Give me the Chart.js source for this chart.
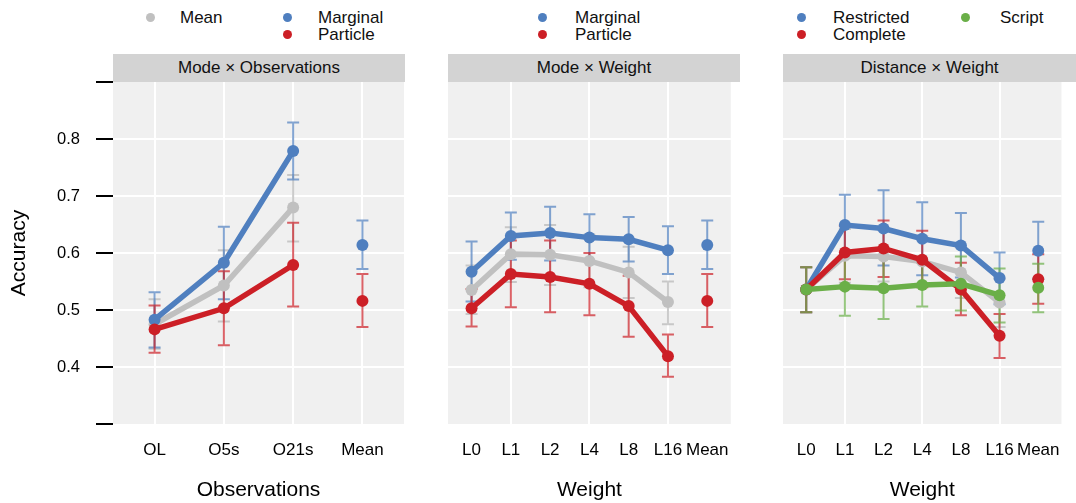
<!DOCTYPE html>
<html><head><meta charset="utf-8">
<script src="https://cdn.jsdelivr.net/npm/chart.js@4"></script>
<style>
body{margin:0;width:1076px;height:503px;position:relative;background:#fff;font-family:"Liberation Sans",Arial,Helvetica,sans-serif;overflow:hidden}
canvas{position:absolute;top:0}
.strip{position:absolute;top:54px;height:28px;background:#d3d3d3;font-size:17px;line-height:28px;text-align:center;color:#111}
.lg{position:absolute;font-size:17px;line-height:17px;color:#111;white-space:nowrap}
.dot{position:absolute;width:9px;height:9px;border-radius:50%}
</style></head><body>
<div class="strip" style="left:113px;width:292px">Mode × Observations</div>
<div class="strip" style="left:448px;width:292px">Mode × Weight</div>
<div class="strip" style="left:783px;width:293px">Distance × Weight</div>
<div id="legends"></div>
<div id="c1w" style="position:absolute;left:0;top:0;width:410px;height:503px"><canvas id="c1"></canvas></div>
<div id="c2w" style="position:absolute;left:420px;top:0;width:325px;height:503px"><canvas id="c2"></canvas></div>
<div id="c3w" style="position:absolute;left:760px;top:0;width:316px;height:503px"><canvas id="c3"></canvas></div>
<script>
// ---------- data ----------
const obsCats = ['OL','O5s','O21s','Mean'];
const weightCats = ['L0','L1','L2','L4','L8','L16','Mean'];
const yTickValues = [0.3,0.4,0.5,0.6,0.7,0.8,0.9];
const yTickLabels = ['','0.4','0.5','0.6','0.7','0.8',''];

// Panel 1: Mode x Observations
const p1Mean       = [0.475,0.543,0.680,null];
const p1MeanLo     = [0.432,0.480,0.620,null];
const p1MeanHi     = [0.519,0.605,0.737,null];
const p1Marginal   = [0.483,0.583,0.779,0.614];
const p1MarginalLo = [0.434,0.519,0.729,0.572];
const p1MarginalHi = [0.531,0.646,0.829,0.657];
const p1Particle   = [0.466,0.503,0.579,0.516];
const p1ParticleLo = [0.425,0.438,0.506,0.470];
const p1ParticleHi = [0.508,0.568,0.653,0.563];

// Panel 2: Mode x Weight
const p2Mean       = [0.535,0.598,0.597,0.586,0.566,0.514,null];
const p2MeanLo     = [0.493,0.549,0.544,0.540,0.521,0.475,null];
const p2MeanHi     = [0.578,0.645,0.649,0.632,0.611,0.550,null];
const p2Marginal   = [0.567,0.630,0.635,0.627,0.624,0.605,0.614];
const p2MarginalLo = [0.515,0.588,0.587,0.586,0.585,0.563,0.572];
const p2MarginalHi = [0.620,0.671,0.681,0.668,0.663,0.647,0.657];
const p2Particle   = [0.503,0.563,0.558,0.546,0.507,0.419,0.516];
const p2ParticleLo = [0.471,0.505,0.496,0.491,0.453,0.383,0.470];
const p2ParticleHi = [0.537,0.622,0.622,0.600,0.560,0.457,0.563];

// Panel 3: Distance x Weight
const p3Mean         = [0.536,0.595,0.594,0.585,0.566,0.513,null];
const p3MeanLo       = [0.496,0.548,0.550,0.540,0.521,0.470,null];
const p3MeanHi       = [0.575,0.642,0.640,0.630,0.610,0.555,null];
const p3Restricted   = [0.536,0.649,0.643,0.625,0.613,0.556,0.604];
const p3RestrictedLo = [0.496,0.597,0.578,0.561,0.557,0.510,0.555];
const p3RestrictedHi = [0.575,0.702,0.710,0.689,0.670,0.601,0.655];
const p3Complete     = [0.536,0.601,0.608,0.588,0.536,0.455,0.554];
const p3CompleteLo   = [0.496,0.554,0.558,0.540,0.491,0.416,0.511];
const p3CompleteHi   = [0.575,0.648,0.657,0.639,0.583,0.493,0.598];
const p3Script       = [0.536,0.541,0.538,0.544,0.546,0.526,0.539];
const p3ScriptLo     = [0.496,0.490,0.484,0.506,0.499,0.478,0.496];
const p3ScriptHi     = [0.575,0.592,0.592,0.583,0.594,0.573,0.581];

// ---------- style ----------
const FONT = '"Liberation Sans", Arial, Helvetica, sans-serif';
const C = {
  gray:  {line:'#c0c0c0', err:'rgba(185,185,185,0.75)'},
  blue:  {line:'#4f7fbf', err:'rgba(79,127,191,0.7)'},
  red:   {line:'#cc1f26', err:'rgba(204,31,38,0.7)'},
  green: {line:'#6aaf48', err:'rgba(106,175,72,0.7)'}
};

// ---------- legends (HTML text) ----------
const legendItems = [
  {x:150,y:17,c:C.gray.line,t:'Mean',tx:180},
  {x:287,y:17,c:C.blue.line,t:'Marginal',tx:318},
  {x:287,y:34,c:C.red.line,t:'Particle',tx:318},
  {x:542,y:17,c:C.blue.line,t:'Marginal',tx:575},
  {x:542,y:34,c:C.red.line,t:'Particle',tx:575},
  {x:801,y:17,c:C.blue.line,t:'Restricted',tx:833},
  {x:801,y:34,c:C.red.line,t:'Complete',tx:833},
  {x:965,y:17,c:C.green.line,t:'Script',tx:1000}
];
const lgDiv = document.getElementById('legends');
legendItems.forEach(it=>{
  const d=document.createElement('div');d.className='dot';
  d.style.left=(it.x-4.5)+'px';d.style.top=(it.y-4.5)+'px';d.style.background=it.c;lgDiv.appendChild(d);
  const s=document.createElement('div');s.className='lg';s.textContent=it.t;
  s.style.left=it.tx+'px';s.style.top=(it.y-8.5)+'px';lgDiv.appendChild(s);
});

// ---------- plugins ----------
const panelBg = {
  id:'panelBg',
  beforeDraw(chart){
    const {ctx, chartArea:a} = chart;
    ctx.save(); ctx.fillStyle='#f0f0f0';
    ctx.fillRect(a.left,a.top,a.right-a.left,a.bottom-a.top); ctx.restore();
  }
};
const errorBars = {
  id:'errorBars',
  beforeDatasetsDraw(chart){
    const {ctx, scales:{x,y}} = chart;
    const metas = chart.getSortedVisibleDatasetMetas().slice().reverse();
    metas.forEach(m=>{
      const ds = chart.data.datasets[m.index];
      ctx.save(); ctx.strokeStyle = ds.errColor; ctx.lineWidth = 2;
      ds.lo.forEach((lo,i)=>{
        const hi = ds.hi[i]; if(lo==null||hi==null) return;
        const px = x.getPixelForValue(i), y1 = y.getPixelForValue(lo), y2 = y.getPixelForValue(hi);
        ctx.beginPath();
        ctx.moveTo(px,y1); ctx.lineTo(px,y2);
        ctx.moveTo(px-6,y1); ctx.lineTo(px+6,y1);
        ctx.moveTo(px-6,y2); ctx.lineTo(px+6,y2);
        ctx.stroke();
      });
      ctx.restore();
    });
  }
};

function makeChart(id, cats, series, gridIdx, yAxisW, padRight, showY, xTitle){
  const n = cats.length;
  const datasets = series.map(s=>({
    data: s.y.map((v,i)=>({x:i,y:v})),
    borderColor: s.col.line, backgroundColor: s.col.line,
    pointBackgroundColor: s.col.line, pointBorderWidth:0,
    pointRadius:6, pointHoverRadius:6, borderWidth:5.5,
    order: s.order, errColor: s.col.err, lo: s.lo, hi: s.hi,
    segment: {borderColor: c => c.p1DataIndex === n-1 ? 'rgba(0,0,0,0)' : undefined},
    clip: false
  }));
  return new Chart(document.getElementById(id), {
    type:'line',
    data:{datasets},
    plugins:[panelBg, errorBars],
    options:{
      responsive:true, maintainAspectRatio:false, animation:false,
      layout:{padding:{top:82,bottom:0,left:0,right:padRight}},
      plugins:{legend:{display:false},tooltip:{enabled:false}},
      scales:{
        x:{
          type:'linear', min:-0.6, max:n-1+0.6,
          afterBuildTicks: s=>{ s.ticks = cats.map((c,i)=>({value:i})); },
          afterFit: s=>{ s.height = 79; },
          ticks:{callback:v=>cats[v], font:{size:17,family:FONT}, color:'#000', padding:16, maxRotation:0, autoSkip:false},
          grid:{color:c=> (c.tick && gridIdx.includes(c.tick.value)) ? '#ffffff' : 'rgba(0,0,0,0)', lineWidth:2, drawTicks:false},
          border:{display:false},
          title:{display:true, text:xTitle, font:{size:21,family:FONT}, color:'#000', padding:{top:0,bottom:0}}
        },
        y:{
          min:0.3, max:0.9,
          afterBuildTicks: s=>{ s.ticks = yTickValues.map(v=>({value:v})); },
          afterFit: s=>{ s.width = yAxisW; },
          ticks:{display:showY, callback:(v,i)=>yTickLabels[i], font:{size:16.5,family:FONT}, color:'#000', padding:16},
          grid:{color:c=> (c.index===0||c.index===yTickValues.length-1) ? 'rgba(0,0,0,0)' : '#ffffff',
                lineWidth:2, drawTicks:showY, tickLength:17, tickColor:'#000', tickWidth:2},
          border:{display:false},
          title:{display:showY, text:'Accuracy', font:{size:21,family:FONT}, color:'#000', padding:{top:7,bottom:0}}
        }
      }
    }
  });
}

makeChart('c1', obsCats, [
  {y:p1Mean, lo:p1MeanLo, hi:p1MeanHi, col:C.gray, order:4},
  {y:p1Marginal, lo:p1MarginalLo, hi:p1MarginalHi, col:C.blue, order:3},
  {y:p1Particle, lo:p1ParticleLo, hi:p1ParticleHi, col:C.red, order:2}
], [0,1,2,3], 113, 5, true, 'Observations');

makeChart('c2', weightCats, [
  {y:p2Mean, lo:p2MeanLo, hi:p2MeanHi, col:C.gray, order:4},
  {y:p2Marginal, lo:p2MarginalLo, hi:p2MarginalHi, col:C.blue, order:3},
  {y:p2Particle, lo:p2ParticleLo, hi:p2ParticleHi, col:C.red, order:2}
], [1,3,5], 28, 5, false, 'Weight');

makeChart('c3', weightCats, [
  {y:p3Mean, lo:p3MeanLo, hi:p3MeanHi, col:C.gray, order:4},
  {y:p3Restricted, lo:p3RestrictedLo, hi:p3RestrictedHi, col:C.blue, order:3},
  {y:p3Complete, lo:p3CompleteLo, hi:p3CompleteHi, col:C.red, order:2},
  {y:p3Script, lo:p3ScriptLo, hi:p3ScriptHi, col:C.green, order:1}
], [1,3,5], 23, 1, false, 'Weight');
</script>
</body></html>
